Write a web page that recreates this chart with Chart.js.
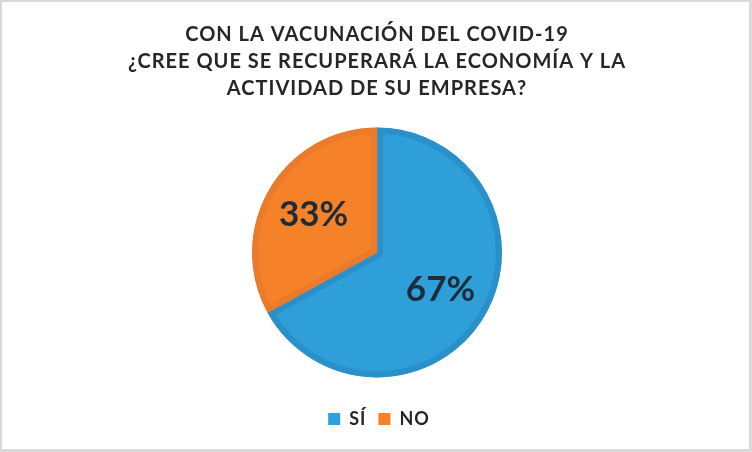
<!DOCTYPE html>
<html>
<head>
<meta charset="utf-8">
<script src="https://cdn.jsdelivr.net/npm/chart.js@4/dist/chart.umd.min.js"></script>
<style>
	body{margin:0;background:#fff;}
	#marco{width:752px;height:452px;box-sizing:border-box;border-style:solid;border-color:#d9d9d9;border-width:2px 3px 3px 2px;background:#fff;}
	#marco canvas{display:block;}
</style>
</head>
<body>
<div id="marco"><canvas id="Grafico1" width="747" height="447"></canvas></div>
<script>
let categorias=['SÍ','NO'];
let porcentajes=[67,33];
let titulo=['CON LA VACUNACIÓN DEL COVID-19','¿CREE QUE SE RECUPERARÁ LA ECONOMÍA Y LA','ACTIVIDAD DE SU EMPRESA?'];
let colores=['#2f9fd9','#f58129'];
let bordes=['#2a90c9','#ea7a2c'];

/* espaciado de letras como en el original */
let espaciado={
	id:'espaciado',
	beforeDraw(chart){chart.ctx.letterSpacing='1px';},
	afterDraw(chart){chart.ctx.letterSpacing='0px';}
}

/* porcentajes dentro de cada porcion */
let etiquetas={
	id:'etiquetas',
	afterDatasetsDraw(chart){
		let ctx=chart.ctx;
		let meta=chart.getDatasetMeta(0);
		ctx.save();
		ctx.letterSpacing='0px';
		ctx.font='bold 35px Lato';
		ctx.fillStyle='#1e2b38';
		ctx.textAlign='center';
		ctx.textBaseline='middle';
		meta.data.forEach((arco,i)=>{
			let p=arco.getProps(['x','y','startAngle','endAngle','outerRadius'],true);
			let medio=(p.startAngle+p.endAngle)/2;
			let r=p.outerRadius*0.59;
			ctx.fillText(porcentajes[i]+'%',p.x+Math.cos(medio)*r,p.y+Math.sin(medio)*r);
		});
		ctx.restore();
	}
}

let CanvasG1=document.getElementById('Grafico1').getContext('2d');
let datos={
	labels:categorias,
	datasets:[{
		data:porcentajes,
		backgroundColor:colores,
		borderColor:bordes,
		borderWidth:6,
		borderAlign:'inner'
	}]
}
let opciones={
	responsive:false,
	animation:false,
	radius:125,
	layout:{padding:{left:3,right:0,top:0,bottom:11}},
	plugins:{
		title:{
			display:true,
			text:titulo,
			color:'#262626',
			font:{family:'Lato',size:20,weight:'bold',lineHeight:1.35},
			padding:{top:19,bottom:5}
		},
		legend:{
			position:'bottom',
			labels:{
				color:'#262626',
				font:{family:'Lato',size:18,weight:'bold'},
				boxWidth:12,
				boxHeight:12,
				padding:12,
				generateLabels(chart){
					let items=Chart.overrides.pie.plugins.legend.labels.generateLabels(chart);
					items.forEach(it=>{it.lineWidth=0;});
					return items;
				}
			}
		},
		tooltip:{enabled:false}
	}
}
let G1=new Chart(CanvasG1,{
	type:'pie',
	data:datos,
	options:opciones,
	plugins:[espaciado,etiquetas]
})
</script>
</body>
</html>
